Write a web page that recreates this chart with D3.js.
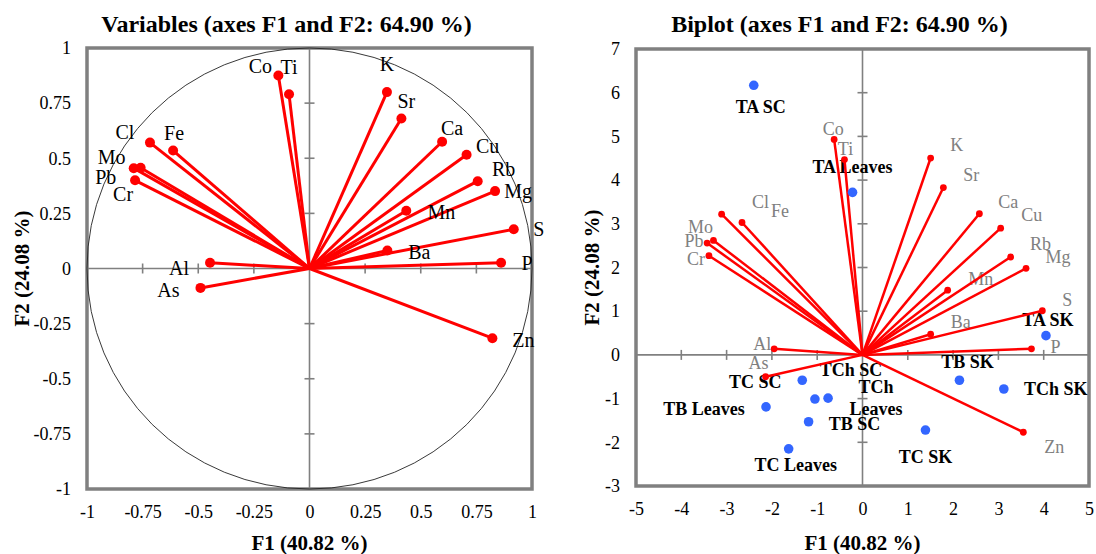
<!DOCTYPE html>
<meta charset="utf-8">
<script src="https://d3js.org/d3.v7.min.js"></script>
<style>
  body { margin: 0; background: white; }
  text { font-family: "Liberation Serif", "Times New Roman", serif; }
  .title { font-size: 24px; font-weight: bold; }
  .axisTitle { font-size: 21px; font-weight: bold; }
  .tickLab text { font-size: 18px; fill: black; }
  .tickLab path, .tickLab line { display: none; }
  .frame { fill: none; stroke: #808080; stroke-width: 3.5px; }
  .zero { stroke: #808080; stroke-width: 1.6px; }
  .vec { stroke: #ff0000; }
  .varLab { fill: black; font-size: 20px; }
  .varLabB { fill: #808080; font-size: 18px; }
  .obsLab { fill: black; font-size: 18px; font-weight: bold; }
</style>
<body>
<div id="chart"></div>
<script>
  const W = 1096, H = 554;

  // ---------- DATA ----------
  const varNames = ["Co","Ti","Cl","Fe","Mo","Pb","Cr","Al","As","K","Sr","Ca","Cu","Rb","Mg","Mn","S","Ba","P","Zn"];
  // correlation circle coordinates
  const varF1 = [-0.14,-0.092,-0.717,-0.613,-0.759,-0.79,-0.784,-0.447,-0.49,0.348,0.413,0.596,0.706,0.756,0.834,0.435,0.918,0.35,0.861,0.822];
  const varF2 = [0.875,0.79,0.571,0.535,0.457,0.455,0.40,0.026,-0.088,0.80,0.68,0.575,0.516,0.396,0.351,0.262,0.178,0.082,0.026,-0.316];
  // biplot vector ends
  const bipF1 = [-0.626,-0.398,-3.11,-2.66,-3.29,-3.43,-3.39,-1.95,-2.14,1.504,1.785,2.58,3.05,3.27,3.61,1.88,3.97,1.504,3.73,3.55];
  const bipF2 = [4.93,4.47,3.22,3.03,2.62,2.56,2.27,0.14,-0.5,4.505,3.83,3.23,2.90,2.24,1.98,1.48,1.01,0.474,0.14,-1.77];

  const obsNames = ["TA SC","TA Leaves","TA SK","TB SC","TB Leaves","TB SK","TC SC","TC Leaves","TC SK","TCh SC","TCh Leaves","TCh SK"];
  const obsF1 = [-2.40,-0.22,4.05,-1.19,-2.13,2.14,-1.33,-1.63,1.39,-1.05,-0.76,3.12];
  const obsF2 = [6.17,3.72,0.44,-1.53,-1.19,-0.58,-0.58,-2.15,-1.72,-1.01,-0.99,-0.78];

  const leftTicks = [-1,-0.75,-0.5,-0.25,0,0.25,0.5,0.75,1];
  const rightXTicks = [-5,-4,-3,-2,-1,0,1,2,3,4,5];
  const rightYTicks = [-3,-2,-1,0,1,2,3,4,5,6,7];

  // label placement (pixel offsets of label centre from point)
  const labLeft = {Co:[-18,-10],Ti:[0,-27],Cl:[-25,-11],Fe:[1,-18],Mo:[-29,-11],Pb:[-28,9],Cr:[-12,14],
    Al:[-31,5],As:[-32,2],K:[0,-28],Sr:[5,-18],Ca:[10,-14],Cu:[21,-9],Rb:[26,-12],Mg:[23,0],
    Mn:[35,1],S:[25,0],Ba:[32,2],P:[26,0],Zn:[31,2]};
  const labRight = {Co:[-1,-11],Ti:[1,-11],Cl:[39,-12],Fe:[38,-12],Mo:[-13,-14],Pb:[-13,-2],Cr:[-13,3],
    Al:[-12,-5],As:[-7,-14],K:[26,-13],Sr:[28,-13],Ca:[29,-12],Cu:[31,-13],Rb:[30,-13],Mg:[32,-12],
    Mn:[33,-12],S:[25,-11],Ba:[30,-12],P:[24,-2],Zn:[31,14]};
  const labObs = {"TA SC":[7,21],"TA Leaves":[0,-26],"TA SK":[2,-16],"TB SC":[46,2],"TB Leaves":[-62,2],
    "TB SK":[8,-19],"TC SC":[-47,1],"TC Leaves":[7,16],"TC SK":[0,27],"TCh SC":[36,-29],
    "TCh Leaves":[48,0],"TCh SK":[52,0]};

  const svg = d3.select("#chart").append("svg").attr("width", W).attr("height", H);

  function panel(xs, ys, xTicks, yTicks, title, innerXT, innerYT, f2Off) {
    const g = svg.append("g");
    const [x0, x1] = xs.range(), [y0, y1] = ys.range();

    g.append("text").attr("class", "title").attr("x", (x0 + x1) / 2 - 23).attr("y", 32)
      .attr("text-anchor", "middle").text(title);

    g.append("g").attr("class", "tickLab").attr("transform", `translate(0,${y0})`)
      .call(d3.axisBottom(xs).tickValues(xTicks).tickSize(0).tickPadding(16).tickFormat(d => d));
    g.append("g").attr("class", "tickLab").attr("transform", `translate(${x0},0)`)
      .call(d3.axisLeft(ys).tickValues(yTicks).tickSize(0).tickPadding(16).tickFormat(d => d));

    g.append("text").attr("class", "axisTitle").attr("x", (x0 + x1) / 2).attr("y", 550)
      .attr("text-anchor", "middle").text("F1 (40.82 %)");
    g.append("text").attr("class", "axisTitle")
      .attr("transform", `translate(${x0 - f2Off},${(y0 + y1) / 2}) rotate(-90)`)
      .attr("text-anchor", "middle").attr("dy", "0.35em").text("F2 (24.08 %)");

    // zero axes with cross ticks
    g.append("line").attr("class", "zero").attr("x1", x0).attr("x2", x1).attr("y1", ys(0)).attr("y2", ys(0));
    g.append("line").attr("class", "zero").attr("y1", y0).attr("y2", y1).attr("x1", xs(0)).attr("x2", xs(0));
    g.selectAll(".xt").data(innerXT).join("line").attr("class", "zero")
      .attr("x1", d => xs(d)).attr("x2", d => xs(d)).attr("y1", ys(0) - 5).attr("y2", ys(0) + 5);
    g.selectAll(".yt").data(innerYT).join("line").attr("class", "zero")
      .attr("y1", d => ys(d)).attr("y2", d => ys(d)).attr("x1", xs(0) - 5).attr("x2", xs(0) + 5);

    g.append("rect").attr("class", "frame").attr("x", x0).attr("y", y1)
      .attr("width", x1 - x0).attr("height", y0 - y1);
    return g;
  }

  // ---------- LEFT: correlation circle ----------
  const xL = d3.scaleLinear().domain([-1, 1]).range([87, 532]);
  const yL = d3.scaleLinear().domain([-1, 1]).range([489, 48]);
  const gL = panel(xL, yL, leftTicks, leftTicks, "Variables (axes F1 and F2: 64.90 %)",
    leftTicks.filter(d => Math.abs(d) < 1 && d !== 0), leftTicks.filter(d => Math.abs(d) < 1 && d !== 0), 65);

  gL.append("ellipse").attr("cx", xL(0)).attr("cy", yL(0))
    .attr("rx", xL(1) - xL(0)).attr("ry", yL(0) - yL(1))
    .attr("fill", "none").attr("stroke", "#222").attr("stroke-width", 0.9);

  const vL = varNames.map((n, i) => ({ n, x: varF1[i], y: varF2[i] }));
  gL.selectAll(".vec").data(vL).join("line").attr("class", "vec").attr("stroke-width", 3)
    .attr("x1", xL(0)).attr("y1", yL(0)).attr("x2", d => xL(d.x)).attr("y2", d => yL(d.y));
  gL.selectAll(".vdot").data(vL).join("circle").attr("class", "vdot").attr("fill", "#ff0000")
    .attr("r", 5).attr("cx", d => xL(d.x)).attr("cy", d => yL(d.y));
  gL.selectAll(".varLab").data(vL).join("text").attr("class", "varLab")
    .attr("x", d => xL(d.x) + labLeft[d.n][0]).attr("y", d => yL(d.y) + labLeft[d.n][1])
    .attr("text-anchor", "middle").attr("dy", "0.35em").text(d => d.n);

  // ---------- RIGHT: biplot ----------
  const xR = d3.scaleLinear().domain([-5, 5]).range([636, 1089]);
  const yR = d3.scaleLinear().domain([-3, 7]).range([486, 49]);
  const gR = panel(xR, yR, rightXTicks, rightYTicks, "Biplot (axes F1 and F2: 64.90 %)",
    rightXTicks.filter(d => Math.abs(d) < 5 && d !== 0), rightYTicks.filter(d => d > -3 && d < 7 && d !== 0), 44);

  const vR = varNames.map((n, i) => ({ n, x: bipF1[i], y: bipF2[i] }));
  gR.selectAll(".varLabB").data(vR).join("text").attr("class", "varLabB")
    .attr("x", d => xR(d.x) + labRight[d.n][0]).attr("y", d => yR(d.y) + labRight[d.n][1])
    .attr("text-anchor", "middle").attr("dy", "0.35em").text(d => d.n);

  const ob = obsNames.map((n, i) => ({ n, x: obsF1[i], y: obsF2[i] }));
  gR.selectAll(".obsLab").data(ob).join("text").attr("class", "obsLab")
    .attr("x", d => xR(d.x) + labObs[d.n][0]).attr("y", d => yR(d.y) + labObs[d.n][1])
    .attr("text-anchor", "middle").attr("dy", "0.35em")
    .each(function (d) {
      const t = d3.select(this);
      if (d.n === "TCh Leaves") {
        t.attr("dy", null);
        t.append("tspan").attr("x", xR(d.x) + labObs[d.n][0]).attr("dy", "-0.3em").text("TCh");
        t.append("tspan").attr("x", xR(d.x) + labObs[d.n][0]).attr("dy", "1.25em").text("Leaves");
      } else t.text(d.n);
    });

  gR.selectAll(".vec").data(vR).join("line").attr("class", "vec").attr("stroke-width", 2.5)
    .attr("x1", xR(0)).attr("y1", yR(0)).attr("x2", d => xR(d.x)).attr("y2", d => yR(d.y));
  gR.selectAll(".vdot").data(vR).join("circle").attr("class", "vdot").attr("fill", "#ff0000")
    .attr("r", 3.4).attr("cx", d => xR(d.x)).attr("cy", d => yR(d.y));
  gR.selectAll(".odot").data(ob).join("circle").attr("class", "odot").attr("fill", "#3366ff")
    .attr("r", 4.8).attr("cx", d => xR(d.x)).attr("cy", d => yR(d.y));
</script>
</body>
